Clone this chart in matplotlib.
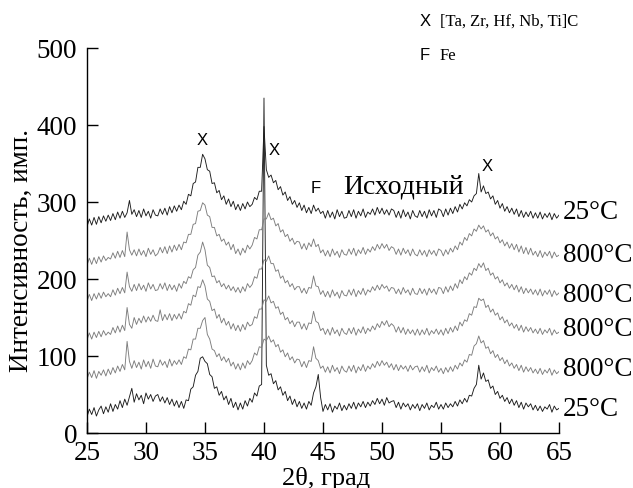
import numpy as np
import matplotlib.pyplot as plt

# 2theta grid, 0.2 deg step
two_theta = np.round(np.arange(25.0, 65.01, 0.2), 1)

# bottom pattern, 25 C
curve_25_bottom = [
    21, 31, 24, 33, 22, 30, 35, 25, 34, 27,
    38, 28, 37, 31, 42, 33, 44, 36, 47, 58,
    40, 51, 43, 49, 38, 52, 44, 50, 41, 48,
    50, 41, 47, 39, 46, 37, 44, 35, 42, 33,
    41, 32, 43, 42, 57, 60, 75, 80, 97, 99,
    93, 90, 76, 73, 58, 60, 49, 54, 43, 48,
    37, 45, 33, 40, 30, 39, 31, 42, 35, 45,
    40, 52, 48, 61, 63, 435, 88, 75, 77, 64,
    68, 56, 60, 49, 54, 42, 48, 37, 44, 34,
    41, 32, 39, 31, 41, 36, 52, 60, 76, 46,
    28, 37, 30, 38, 27, 35, 31, 39, 29, 36,
    30, 38, 32, 40, 31, 39, 34, 41, 33, 40,
    35, 42, 37, 45, 38, 44, 36, 46, 39, 41,
    42, 33, 40, 31, 39, 34, 38, 30, 37, 32,
    38, 29, 37, 32, 39, 30, 36, 33, 40, 31,
    37, 31, 39, 33, 38, 34, 41, 35, 43, 38,
    45, 40, 49, 48, 58, 63, 88, 70, 78, 67,
    69, 58, 61, 50, 54, 45, 49, 41, 46, 38,
    44, 36, 42, 33, 40, 31, 39, 34, 38, 30,
    36, 29, 35, 28, 34, 31, 37, 27, 35, 30,
    32,
]

curve_800_a = [
    70, 79, 72, 81, 71, 80, 75, 82, 74, 83,
    76, 85, 78, 87, 80, 89, 82, 119, 93, 84,
    94, 85, 92, 83, 95, 86, 93, 84, 96, 87,
    86, 95, 88, 93, 85, 96, 87, 94, 89, 95,
    89, 99, 97, 109, 108, 122, 122, 136, 136, 146,
    150, 128, 122, 109, 107, 99, 103, 94, 99, 92,
    97, 87, 92, 83, 90, 82, 91, 84, 94, 89,
    94, 104, 101, 112, 111, 122, 120, 126, 118, 121,
    112, 115, 105, 108, 99, 104, 95, 99, 91, 96,
    95, 86, 93, 85, 94, 93, 112, 97, 94, 84,
    87, 79, 86, 78, 88, 80, 85, 77, 87, 81,
    79, 87, 80, 88, 78, 86, 81, 89, 80, 87,
    83, 90, 85, 93, 87, 94, 88, 92, 85, 90,
    82, 89, 81, 88, 83, 87, 80, 88, 82, 86,
    87, 79, 86, 80, 88, 78, 85, 81, 87, 79,
    84, 77, 85, 79, 86, 80, 88, 83, 91, 87,
    95, 92, 102, 101, 113, 116, 126, 117, 120, 110,
    112, 103, 107, 98, 102, 94, 98, 90, 95, 87,
    91, 84, 89, 81, 88, 79, 86, 80, 85, 78,
    83, 77, 84, 76, 82, 78, 84, 75, 82, 77,
    80,
]

curve_800_b = [
    121, 130, 122, 131, 124, 132, 125, 133, 127, 131,
    128, 137, 130, 139, 131, 140, 133, 163, 141, 136,
    150, 141, 149, 143, 152, 144, 151, 145, 153, 146,
    145, 160, 146, 154, 147, 155, 146, 154, 148, 155,
    148, 158, 156, 168, 166, 179, 177, 190, 189, 199,
    191, 174, 171, 159, 161, 149, 154, 143, 149, 140,
    145, 135, 142, 133, 140, 132, 141, 134, 144, 139,
    141, 151, 149, 161, 161, 173, 171, 178, 169, 171,
    162, 164, 154, 157, 147, 150, 142, 146, 138, 144,
    144, 135, 142, 134, 143, 142, 158, 145, 143, 133,
    136, 128, 135, 127, 137, 129, 134, 126, 136, 130,
    128, 136, 129, 137, 127, 135, 130, 138, 129, 136,
    132, 139, 134, 142, 137, 145, 140, 146, 138, 142,
    139, 131, 138, 130, 137, 128, 135, 129, 134, 127,
    135, 127, 134, 128, 136, 127, 133, 129, 135, 128,
    134, 127, 136, 129, 137, 131, 139, 133, 144, 139,
    147, 145, 155, 153, 164, 163, 175, 172, 174, 163,
    166, 157, 161, 153, 156, 147, 151, 143, 147, 139,
    143, 136, 141, 133, 140, 131, 138, 132, 137, 130,
    135, 129, 136, 128, 134, 130, 136, 127, 134, 129,
    131,
]

curve_800_c = [
    171, 180, 172, 181, 174, 182, 175, 183, 177, 181,
    177, 186, 179, 188, 181, 189, 182, 209, 190, 184,
    193, 185, 194, 186, 192, 184, 195, 187, 193, 185,
    186, 194, 187, 195, 185, 193, 186, 192, 184, 194,
    188, 197, 194, 203, 201, 212, 215, 231, 235, 248,
    238, 218, 215, 203, 204, 195, 198, 190, 194, 187,
    192, 185, 190, 183, 189, 182, 190, 184, 194, 189,
    193, 203, 201, 213, 213, 225, 223, 230, 220, 220,
    210, 212, 201, 204, 195, 198, 190, 194, 186, 190,
    190, 182, 188, 181, 189, 188, 204, 191, 190, 180,
    185, 177, 184, 176, 186, 178, 183, 175, 185, 179,
    178, 186, 179, 187, 177, 185, 180, 188, 179, 186,
    183, 190, 185, 192, 186, 193, 188, 191, 184, 189,
    188, 181, 187, 180, 189, 182, 186, 179, 188, 181,
    180, 188, 181, 187, 179, 188, 182, 187, 180, 189,
    188, 181, 190, 183, 191, 185, 194, 188, 199, 194,
    203, 199, 208, 205, 214, 211, 220, 215, 221, 211,
    214, 205, 208, 200, 203, 195, 199, 191, 195, 188,
    193, 186, 192, 183, 190, 181, 188, 182, 187, 180,
    186, 179, 187, 178, 185, 180, 186, 177, 185, 179,
    182,
]

curve_800_d = [
    218, 227, 219, 228, 220, 229, 222, 230, 224, 228,
    226, 234, 227, 236, 228, 237, 229, 261, 238, 231,
    238, 230, 239, 231, 237, 229, 240, 232, 238, 230,
    233, 241, 234, 242, 233, 243, 235, 244, 237, 245,
    238, 248, 247, 258, 258, 271, 272, 288, 289, 299,
    296, 283, 281, 267, 267, 256, 258, 249, 252, 244,
    248, 238, 245, 233, 239, 231, 240, 234, 244, 239,
    244, 254, 252, 264, 264, 278, 278, 286, 277, 279,
    269, 272, 261, 264, 255, 258, 249, 253, 245, 249,
    248, 239, 246, 238, 247, 242, 252, 242, 245, 234,
    238, 230, 237, 229, 239, 231, 236, 228, 238, 232,
    231, 239, 232, 240, 230, 238, 233, 241, 232, 239,
    235, 242, 237, 245, 239, 246, 240, 245, 237, 242,
    240, 232, 239, 231, 240, 233, 238, 230, 239, 232,
    230, 238, 231, 237, 229, 238, 232, 237, 230, 239,
    237, 230, 238, 232, 240, 235, 243, 238, 248, 244,
    254, 250, 259, 256, 265, 262, 270, 265, 269, 261,
    264, 256, 260, 252, 255, 247, 251, 243, 248, 240,
    246, 238, 245, 235, 243, 233, 241, 232, 240, 231,
    236, 229, 237, 228, 235, 230, 236, 227, 235, 229,
    231,
]

# initial state, 25 C
curve_initial = [
    268, 278, 270, 280, 271, 281, 273, 282, 275, 283,
    276, 285, 277, 287, 279, 288, 280, 286, 302, 284,
    290, 281, 289, 280, 291, 282, 288, 279, 290, 283,
    282, 291, 284, 292, 283, 294, 286, 295, 288, 296,
    290, 301, 297, 310, 308, 324, 326, 345, 345, 362,
    356, 342, 340, 324, 325, 312, 315, 303, 308, 297,
    304, 294, 301, 290, 297, 289, 298, 291, 300, 294,
    297, 306, 303, 314, 314, 398, 342, 332, 335, 325,
    328, 316, 320, 309, 313, 302, 307, 297, 302, 293,
    299, 289, 296, 286, 293, 285, 296, 288, 292, 285,
    288, 279, 289, 280, 287, 278, 290, 281, 288, 279,
    280, 289, 281, 290, 279, 288, 282, 291, 280, 287,
    284, 291, 283, 293, 285, 292, 284, 290, 283, 291,
    289, 280, 288, 279, 290, 281, 287, 278, 289, 282,
    280, 289, 281, 288, 279, 290, 282, 289, 280, 291,
    289, 281, 291, 283, 292, 285, 294, 287, 297, 291,
    299, 295, 303, 300, 308, 311, 337, 313, 321, 311,
    313, 304, 308, 297, 302, 292, 298, 288, 294, 286,
    292, 284, 291, 281, 289, 280, 287, 281, 288, 279,
    286, 279, 287, 278, 285, 280, 286, 277, 285, 279,
    283,
]

curves = [curve_25_bottom, curve_800_a, curve_800_b, curve_800_c, curve_800_d, curve_initial]
curve_colors = ['#1c1c1c', '#7d7d7d', '#7d7d7d', '#7d7d7d', '#7d7d7d', '#1c1c1c']
temp_labels = ['25°C', '800°C', '800°C', '800°C', '800°C', '25°C']
label_y = [31, 83, 134, 178, 230, 286]

# phase marks: (2theta, intensity)
phase_marks = [(34.8, 380), (40.9, 367), (58.9, 346)]
fe_mark = (44.4, 318)

serif = 'Liberation Serif'
sans = 'Liberation Sans'
big = 19.5

fig = plt.figure(figsize=(6.33, 4.88), dpi=100)
ax = fig.add_axes([0.1374, 0.1127, 0.7457, 0.7889])

for y, c in zip(curves, curve_colors):
    ax.plot(two_theta, y, color=c, lw=0.65)

ax.set_xlim(25, 65)
ax.set_ylim(0, 500)
ax.set_xticks(range(25, 66, 5))
ax.set_yticks(range(0, 501, 100))
ax.spines['top'].set_visible(False)
ax.spines['right'].set_visible(False)
for s in ('left', 'bottom'):
    ax.spines[s].set_linewidth(1.0)
ax.tick_params(direction='in', length=8, width=1.0, labelsize=big)
ax.tick_params(axis='x', pad=6)
ax.tick_params(axis='y', pad=7)
for lab in ax.get_xticklabels() + ax.get_yticklabels():
    lab.set_fontfamily(serif)

fig.text(0.515, 1 - 478 / 488, '2θ, град', fontsize=19, fontfamily=serif,
         ha='center', va='center')
fig.text(0.034, 1 - 251 / 488, 'Интенсивность, имп.', fontsize=big, fontfamily=serif,
         ha='center', va='center', rotation=90)

for t, yv in zip(temp_labels, label_y):
    ax.text(65.3, yv, t, fontsize=big, fontfamily=serif, va='center', ha='left', clip_on=False)

for xv, yv in phase_marks:
    ax.text(xv, yv, 'X', fontsize=12, fontfamily=sans, ha='center', va='center')
ax.text(fe_mark[0], fe_mark[1], 'F', fontsize=12, fontfamily=sans, ha='center', va='center')

ax.text(51.8, 319, 'Исходный', fontsize=20, fontfamily=serif, ha='center', va='center')

# legend of phase symbols
ax.text(53.64, 534, 'X', fontsize=12, fontfamily=sans, ha='center', va='center', clip_on=False)
ax.text(54.9, 534, '[Ta, Zr, Hf, Nb, Ti]C', fontsize=12, fontfamily=serif, ha='left', va='center', clip_on=False)
ax.text(53.64, 490, 'F', fontsize=12, fontfamily=sans, ha='center', va='center', clip_on=False)
ax.text(54.9, 490, 'Fe', fontsize=12, fontfamily=serif, ha='left', va='center', clip_on=False)

fig.savefig('out.png', dpi=100)
